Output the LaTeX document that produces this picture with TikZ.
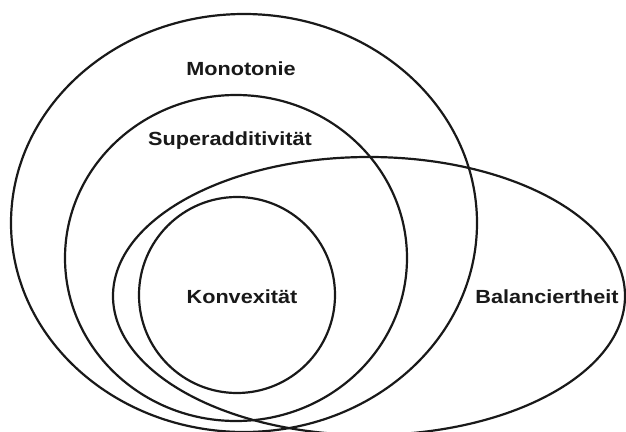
\documentclass[tikz,border=0pt]{standalone}
\usepackage{fontspec}
\setmainfont{Liberation Sans}
\newcommand\widelab[1]{\scalebox{1.14}[1]{#1}}
\begin{document}
\begin{tikzpicture}[x=1pt,y=-1pt,
  setline/.style={line width=2.2pt, draw=black!90},
  lbl/.style={font=\bfseries\fontsize{19}{22}\selectfont, inner sep=0pt, anchor=base, text=black!90}]
\useasboundingbox (0,0) rectangle (626,431);
\clip (0,0) rectangle (626,431);
\draw[setline] (244,223) ellipse [x radius=233, y radius=209];
\draw[setline] (236,258) ellipse [x radius=171, y radius=163];
\draw[setline] (369,296) ellipse [x radius=256, y radius=139];
\draw[setline] (237,295) circle [radius=98];
\node[lbl] (mono) at (241,75) {\widelab{Monotonie}};
\node[lbl] (super) at (230,145) {\widelab{Superadditivität}};
\node[lbl] (konv) at (242,303) {\widelab{Konvexität}};
\node[lbl] (bal) at (547,303) {\widelab{Balanciertheit}};
\end{tikzpicture}
\end{document}
